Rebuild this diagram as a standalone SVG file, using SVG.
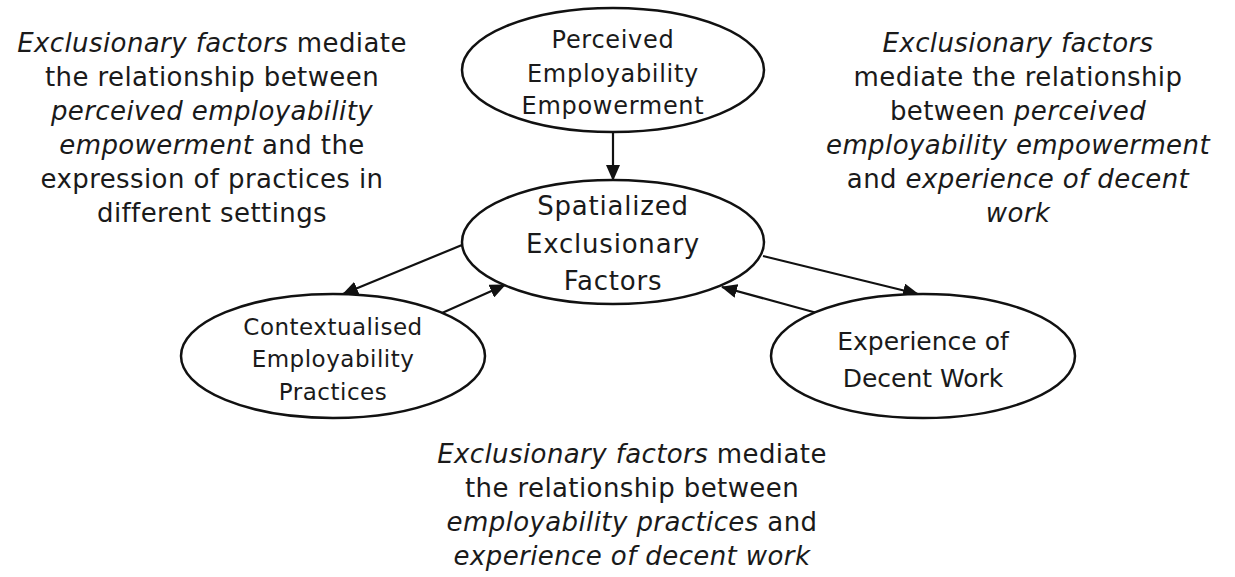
<svg xmlns="http://www.w3.org/2000/svg" width="1235" height="577" viewBox="0 0 1235 577">
<style>
.node{fill:#fff;stroke:#111;stroke-width:2.5}
.conn{stroke:#111;stroke-width:2.2;fill:none}
text{font-family:"DejaVu Sans","Liberation Sans",sans-serif;fill:#1a1a1a;text-anchor:middle}
.ann{font-size:26px;letter-spacing:0.4px}
.it{font-style:italic}
.n1{font-size:24px;letter-spacing:0.7px}
.n2{font-size:26px;letter-spacing:0.8px}
.n3{font-size:23px;letter-spacing:0.5px}
.n4{font-size:25px}
</style>
<defs>
<marker id="ah" markerUnits="userSpaceOnUse" markerWidth="16" markerHeight="14" refX="15" refY="7" orient="auto">
<path d="M0,0 L16,7 L0,14 z" fill="#111"/>
</marker>
</defs>
<rect width="1235" height="577" fill="#fff"/>
<g id="connectors">
<line class="conn" x1="613" y1="132" x2="613" y2="180" marker-end="url(#ah)"/>
<line class="conn" x1="462" y1="245" x2="343" y2="294" marker-end="url(#ah)"/>
<line class="conn" x1="442" y1="313" x2="505" y2="285" marker-end="url(#ah)"/>
<line class="conn" x1="763" y1="256" x2="918" y2="294" marker-end="url(#ah)"/>
<line class="conn" x1="817" y1="313" x2="722" y2="287" marker-end="url(#ah)"/>
</g>
<g id="node-perceived">
<ellipse class="node" cx="613" cy="70" rx="151" ry="62"/>
<text class="n1" x="613" y="48">Perceived</text>
<text class="n1" x="613" y="82">Employability</text>
<text class="n1" x="613" y="114">Empowerment</text>
</g>
<g id="node-spatialized">
<ellipse class="node" cx="613" cy="242" rx="151" ry="62"/>
<text class="n2" x="613" y="215">Spatialized</text>
<text class="n2" x="613" y="253">Exclusionary</text>
<text class="n2" x="613" y="290">Factors</text>
</g>
<g id="node-contextualised">
<ellipse class="node" cx="333" cy="356" rx="152" ry="62"/>
<text class="n3" x="333" y="335">Contextualised</text>
<text class="n3" x="333" y="367">Employability</text>
<text class="n3" x="333" y="400">Practices</text>
</g>
<g id="node-experience">
<ellipse class="node" cx="923" cy="356" rx="152" ry="62"/>
<text class="n4" x="923" y="350">Experience of</text>
<text class="n4" x="923" y="387">Decent Work</text>
</g>
<g id="label-left">
<text class="ann" x="212" y="52"><tspan class="it">Exclusionary factors</tspan> mediate</text>
<text class="ann" x="212" y="86">the relationship between</text>
<text class="ann it" x="212" y="120">perceived employability</text>
<text class="ann" x="212" y="154"><tspan class="it">empowerment</tspan> and the</text>
<text class="ann" x="212" y="188">expression of practices in</text>
<text class="ann" x="212" y="222">different settings</text>
</g>
<g id="label-right">
<text class="ann it" x="1018" y="52">Exclusionary factors</text>
<text class="ann" x="1018" y="86">mediate the relationship</text>
<text class="ann" x="1018" y="120">between <tspan class="it">perceived</tspan></text>
<text class="ann it" x="1018" y="154">employability empowerment</text>
<text class="ann" x="1018" y="188">and <tspan class="it">experience of decent</tspan></text>
<text class="ann it" x="1018" y="222">work</text>
</g>
<g id="label-bottom">
<text class="ann" x="632" y="463"><tspan class="it">Exclusionary factors</tspan> mediate</text>
<text class="ann" x="632" y="497">the relationship between</text>
<text class="ann" x="632" y="531"><tspan class="it">employability practices</tspan> and</text>
<text class="ann it" x="632" y="565">experience of decent work</text>
</g>
</svg>
